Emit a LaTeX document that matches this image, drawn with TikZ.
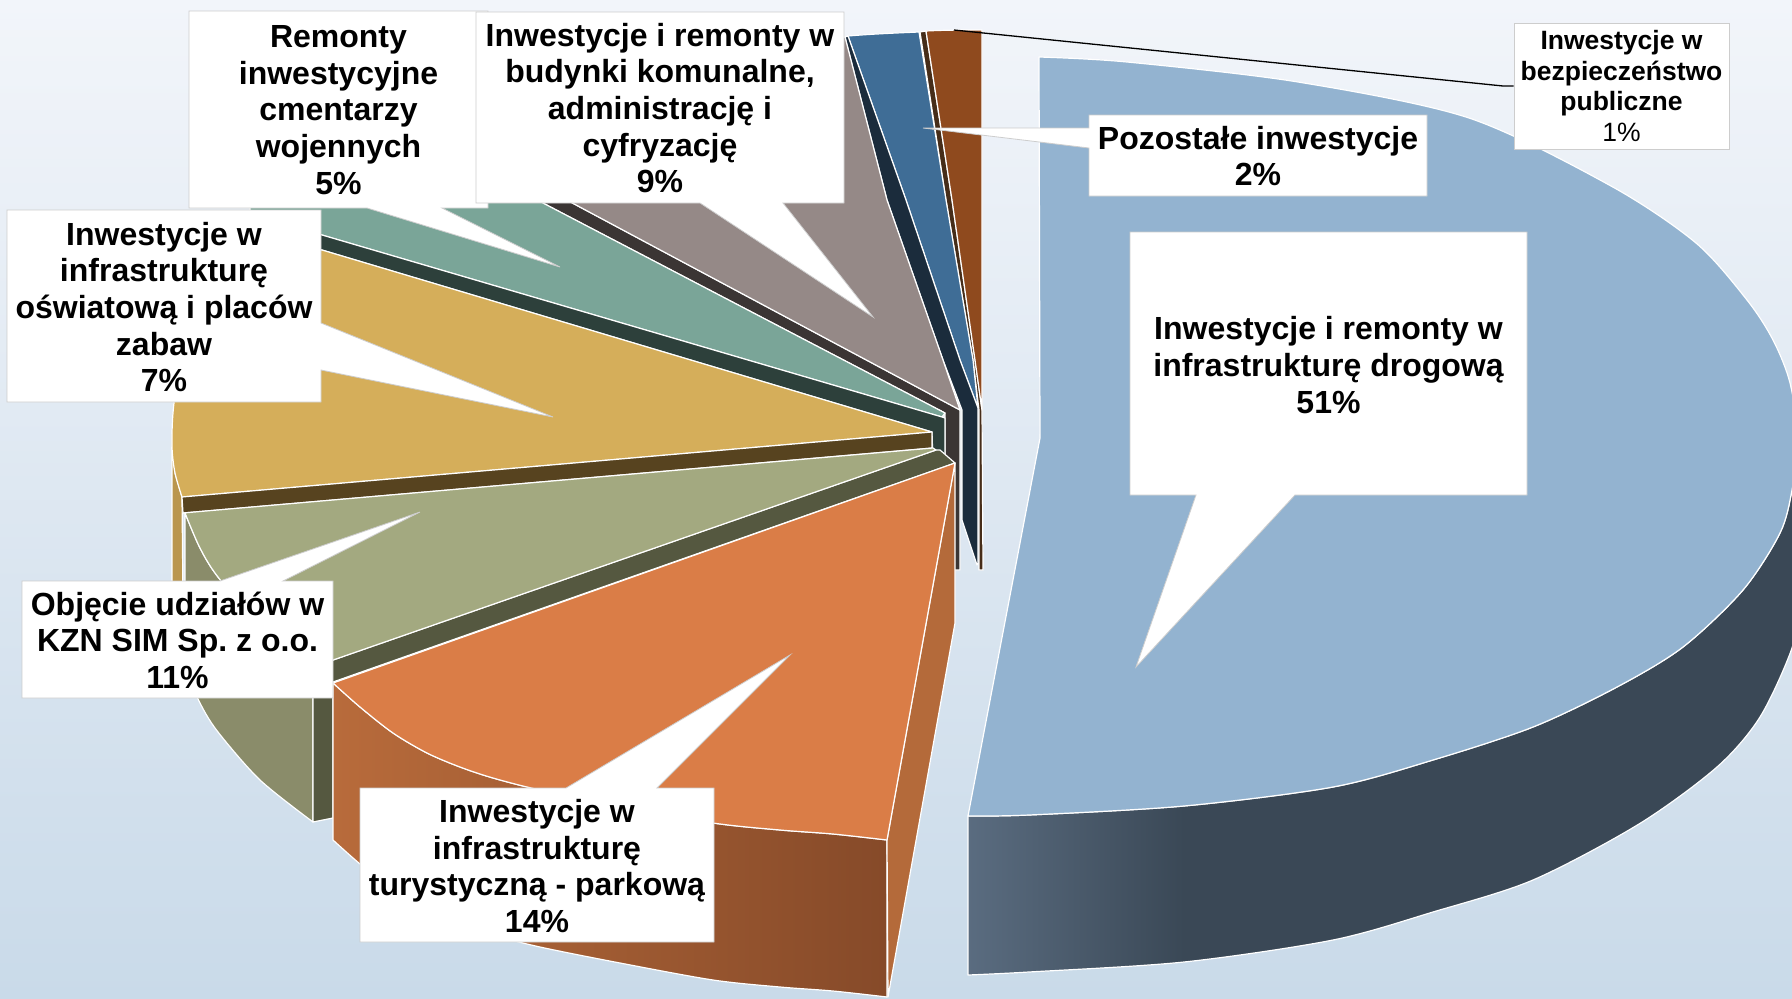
\documentclass[tikz,border=0pt]{standalone}
\usepackage{fontspec}
\setmainfont{Liberation Sans}
\frenchspacing
\definecolor{bgtop}{RGB}{242,245,250}
\definecolor{bgbot}{RGB}{201,218,233}
\definecolor{bluetop}{RGB}{147,179,208}
\definecolor{bluesideA}{RGB}{90,108,128}
\definecolor{bluesideB}{RGB}{58,72,86}
\definecolor{browntop}{RGB}{143,74,30}
\definecolor{brownside}{RGB}{70,45,25}
\definecolor{dbluetop}{RGB}{63,109,150}
\definecolor{navy}{RGB}{27,44,60}
\definecolor{graytop}{RGB}{149,137,135}
\definecolor{grayside}{RGB}{59,53,52}
\definecolor{tealtop}{RGB}{122,165,152}
\definecolor{tealside}{RGB}{45,64,59}
\definecolor{yeltop}{RGB}{213,174,90}
\definecolor{yelside}{RGB}{186,150,78}
\definecolor{yeldark}{RGB}{87,67,31}
\definecolor{olivetop}{RGB}{163,169,128}
\definecolor{oliveside}{RGB}{138,140,106}
\definecolor{olivedark}{RGB}{85,88,64}
\definecolor{orgtop}{RGB}{218,125,71}
\definecolor{orgsideA}{RGB}{184,107,59}
\definecolor{orgsideB}{RGB}{134,74,41}
\definecolor{orgright}{RGB}{180,106,58}
\definecolor{boxline}{RGB}{205,205,205}
\pgfdeclarehorizontalshading{bsideshade}{100bp}{color(0bp)=(bluesideA); color(25bp)=(bluesideA); color(38bp)=(bluesideB); color(100bp)=(bluesideB)}
\tikzset{
  face/.style={draw=white, line width=1.2pt, line join=round},
  callout/.style={fill=white, draw=boxline, line width=0.8pt, line join=miter},
  lbl/.style={align=center, inner sep=0pt, font=\fontsize{32}{36.6}\selectfont\bfseries},
  slbl/.style={align=center, inner sep=0pt, font=\fontsize{26.5}{30.5}\selectfont\bfseries},
  leader/.style={draw=black, line width=1.3pt}
}
\begin{document}
\begin{tikzpicture}[x=1pt,y=-1pt]
\useasboundingbox (0,0) rectangle (1792,999);
\clip (0,0) rectangle (1792,999);
\shade[top color=bgtop, bottom color=bgbot] (0,0) rectangle (1792,999);

% ---- big blue slice (51%)
\shadedraw[face, shading=bsideshade] plot[smooth] coordinates {(1798,440) (1792,490) (1780,533) (1743,590) (1683,647) (1617,687) (1533,727) (1433,760) (1333,787) (1184,806) (1029,815) (968,816)} -- (968,975) -- plot[smooth] coordinates {(968,975) (1029,972) (1184,962) (1333,940) (1433,912) (1533,880) (1639,824) (1717,767) (1760,717) (1792,648) (1800,600)} -- cycle;
\filldraw[face, fill=bluetop] (1040,438) -- (1039,57) -- plot[smooth] coordinates {(1039,57) (1127,62) (1298,82) (1469,118) (1611,186) (1696,243) (1747,300) (1773,340) (1790,383) (1798,440) (1792,490) (1780,533) (1743,590) (1683,647) (1617,687) (1533,727) (1433,760) (1333,787) (1184,806) (1029,815) (968,816)} -- cycle;

% ---- brown slice (1%)
\filldraw[face, fill=brownside] (920,32) -- (926,31) -- (952,200) -- (975,360) -- (982,410) -- (983,570) -- (979,570) -- (979,410) -- (973,360) -- (946,200) -- cycle;
\filldraw[face, fill=browntop] (926,31) .. controls (945,30) and (965,30) .. (982,30) -- (982,410) -- (975,360) -- (952,200) -- cycle;

% ---- dark blue slice (2%)
\filldraw[face, fill=dbluetop] (848,36) .. controls (872,34) and (896,33) .. (919,32) -- (946,200) -- (973,360) -- (978,408) -- (960,360) -- (906,200) -- cycle;
\filldraw[face, fill=navy] (845,37) -- (848,36) -- (906,200) -- (960,360) -- (978,408) -- (978,563) -- (977,565) -- (962,520) -- (962,410) -- (943,360) -- (887,200) -- cycle;

% ---- gray slice (9%)
\filldraw[face, fill=grayside] (518,190) -- (548,190) -- (960,410) -- (960,570) -- (945,570) -- (945,413) -- cycle;
\filldraw[face, fill=graytop] (548,190) -- (960,410) -- (943,360) -- (887,200) -- (845,37) -- (700,25) -- (520,120) -- cycle;

% ---- teal slice (5%)
\filldraw[face, fill=tealtop] (250,180) -- (518,190) -- (945,413) -- (942,417) -- (322,235) -- (250,214) -- cycle;
\filldraw[face, fill=tealside] (250,214) -- (322,235) -- (942,417) -- (945,418) -- (945,462) -- (933,462) -- (932,432) -- (322,250) -- (250,229) -- cycle;

% ---- yellow slice (7%)
\filldraw[face, fill=yelside] (172,447) -- (175,473) -- (182,497) -- (183,600) -- (172,600) -- cycle;
\filldraw[face, fill=yeltop] (322,250) -- (932,432) -- (182,497) -- plot[smooth] coordinates {(182,497) (175,473) (172,447) (173,413) (178,380) (195,330) (230,290) (280,262) (322,250)} -- cycle;
\filldraw[face, fill=yeldark] (182,497) -- (932,432) -- (932,448) -- (183,513) -- cycle;

% ---- olive slice (11%)
\filldraw[face, fill=oliveside] plot[smooth] coordinates {(185,513) (200,548) (218,577) (260,625) (313,667)} -- (313,822) -- plot[smooth] coordinates {(313,822) (260,780) (218,732) (200,703) (185,668)} -- cycle;
\filldraw[face, fill=olivedark] (313,667) -- (936,450) -- (940,450) -- (955,463) -- (333,682) -- (333,818) -- (313,822) -- cycle;
\filldraw[face, fill=olivetop] (183,513) -- (933,448) -- (936,450) -- (313,667) -- plot[smooth] coordinates {(313,667) (260,625) (218,577) (200,548) (185,513)} -- cycle;

% ---- orange slice (14%)
\shadedraw[face, left color=orgsideA, right color=orgsideB] plot[smooth] coordinates {(333,683) (360,707) (393,733) (427,753) (460,767) (493,778) (540,790) (620,806) (713,823) (780,830) (833,834) (887,840)} -- (887,997) -- plot[smooth] coordinates {(887,997) (833,991) (780,987) (713,980) (620,963) (540,947) (493,935) (460,924) (427,910) (393,890) (360,864) (333,840)} -- cycle;
\filldraw[face, fill=orgright] (955,463) -- (955,623) -- (888,997) -- (887,840) -- cycle;
\filldraw[face, fill=orgtop] (955,463) -- (333,683) -- plot[smooth] coordinates {(333,683) (360,707) (393,733) (427,753) (460,767) (493,778) (540,790) (620,806) (713,823) (780,830) (833,834) (887,840)} -- cycle;

% ---- callouts
\filldraw[callout] (189,11) -- (488,11) -- (488,208) -- (442,208) -- (560,267) -- (367,208) -- (189,208) -- cycle;
\node[lbl] (t5) at (338.5,110) {Remonty\\inwestycyjne\\cmentarzy\\wojennych\\5\%};

\filldraw[callout] (476,12) -- (844,12) -- (844,203) -- (783,203) -- (873,317) -- (700,203) -- (476,203) -- cycle;
\node[lbl] (t9) at (660,108) {Inwestycje i remonty w\\budynki komunalne,\\administrację i\\cyfryzację\\9\%};

\filldraw[callout] (7,210) -- (321,210) -- (321,323) -- (553,417) -- (321,370) -- (321,402) -- (7,402) -- cycle;
\node[lbl] (t7) at (164,307) {Inwestycje w\\infrastrukturę\\oświatową i placów\\zabaw\\7\%};

\filldraw[callout] (22,581) -- (220,581) -- (420,512) -- (283,581) -- (333,581) -- (333,698) -- (22,698) -- cycle;
\node[lbl] (t11) at (177.5,640) {Objęcie udziałów w\\KZN SIM Sp. z o.o.\\11\%};

\filldraw[callout] (360,788) -- (566,788) -- (790,655) -- (657,788) -- (714,788) -- (714,942) -- (360,942) -- cycle;
\node[lbl] (t14) at (537,866) {Inwestycje w\\infrastrukturę\\turystyczną - parkową\\14\%};

\filldraw[callout] (1089,115) -- (1427,115) -- (1427,196) -- (1089,196) -- (1089,148) -- (923,128) -- (1089,128) -- cycle;
\node[lbl] (t2) at (1258,156) {Pozostałe inwestycje\\2\%};

\filldraw[callout] (1130,232) -- (1527,232) -- (1527,495) -- (1295,495) -- (1136,667) -- (1196,495) -- (1130,495) -- cycle;
\node[lbl] (t51) at (1328.5,365) {Inwestycje i remonty w\\infrastrukturę drogową\\51\%};

\node[slbl, fill=white, draw=boxline, line width=0.8pt, minimum width=215pt, minimum height=126pt] (t1) at (1621.5,86) {Inwestycje w\\bezpieczeństwo\\publiczne\\{\mdseries 1\%}};
\coordinate (lead) at (954,30);
\coordinate (bend) at (1503,86);
\draw[leader] (lead) -- (bend) -- (t1.west);
\end{tikzpicture}
\end{document}
